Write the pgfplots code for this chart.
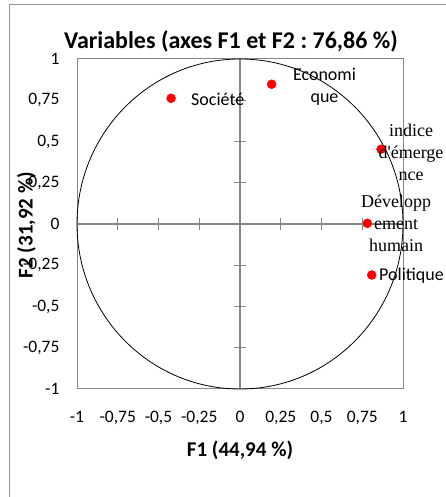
\documentclass[border=0pt]{standalone}
\usepackage{pgfplots}
\pgfplotsset{compat=1.18}
\usepackage{fontspec}
\setmainfont{Carlito}
\newfontfamily\seriffont{Liberation Serif}
\definecolor{axgray}{RGB}{134,134,134}
\definecolor{bordgray}{RGB}{150,150,150}
\definecolor{ptred}{RGB}{255,0,0}
\frenchspacing
\begin{document}
\begin{tikzpicture}[x=1pt,y=1pt]
\draw[bordgray, line width=1pt] (9,-10) -- (9,492) -- (460,492);
\node[font=\bfseries\fontsize{24}{28}\selectfont] at (231,456) {Variables (axes F1 et F2 :\ 76,86 \%)};
% frame + tick labels
\begin{axis}[
  at={(77pt,108pt)}, anchor=south west,
  width=326pt, height=330pt, scale only axis,
  xmin=-1, xmax=1, ymin=-1, ymax=1,
  axis line style={draw=axgray, line width=1pt},
  xtick={-1,-0.75,-0.5,-0.25,0,0.25,0.5,0.75,1},
  ytick={-1,-0.75,-0.5,-0.25,0,0.25,0.5,0.75,1},
  xticklabels={-1,{-0,75},{-0,5},{-0,25},0,{0,25},{0,5},{0,75},1},
  yticklabels={-1,{-0,75},{-0,5},{-0,25},0,{0,25},{0,5},{0,75},1},
  major tick length=0pt,
  tick label style={font=\fontsize{17.5}{20}\selectfont},
  xticklabel style={yshift=-19pt},
  yticklabel style={xshift=-14pt},
  clip=false,
]
\end{axis}
% central axes, circle, points
\begin{axis}[
  at={(77pt,108pt)}, anchor=south west,
  width=326pt, height=330pt, scale only axis,
  xmin=-1, xmax=1, ymin=-1, ymax=1,
  axis lines=middle,
  axis line style={draw=axgray, line width=1.3pt, -},
  xtick={-0.75,-0.5,-0.25,0.25,0.5,0.75},
  ytick={-0.75,-0.5,-0.25,0.25,0.5,0.75},
  xticklabels={}, yticklabels={},
  tick align=center, major tick length=12pt,
  every tick/.style={draw=axgray, line width=1pt},
  clip=false,
]
\draw[black, line width=0.8pt] (axis cs:0,0) ellipse [x radius=1, y radius=1];
\addplot[only marks, mark=*, mark size=4.5pt, mark options={fill=ptred, draw=ptred}] coordinates {
  (-0.423,0.762)
  (0.194,0.847)
  (0.865,0.453)
  (0.781,0.004)
  (0.808,-0.309)
};
\end{axis}
\node[anchor=west, inner sep=0, font=\fontsize{18}{22}\selectfont] at (191,398) {Société};
\node[align=center, inner sep=0, font=\fontsize{18}{22}\selectfont] at (324.5,410.5) {Economi\\que};
\node[align=center, inner sep=0, font=\seriffont\fontsize{18}{22}\selectfont] at (411,345) {indice\\d'émerge\\nce};
\node[align=center, inner sep=0, font=\seriffont\fontsize{18}{22}\selectfont] at (396,274) {Développ\\ement\\humain};
\node[anchor=west, inner sep=0, font=\fontsize{18}{22}\selectfont] at (379,221.3) {Politique};
\node[font=\bfseries\fontsize{21}{24}\selectfont] at (240,47) {F1 (44,94 \%)};
\node[rotate=90, font=\bfseries\fontsize{21}{24}\selectfont] at (26.5,272) {F2 (31,92 \%)};
\pgfresetboundingbox
\path[use as bounding box] (0,0) rectangle (446,497);
\end{tikzpicture}
\end{document}
